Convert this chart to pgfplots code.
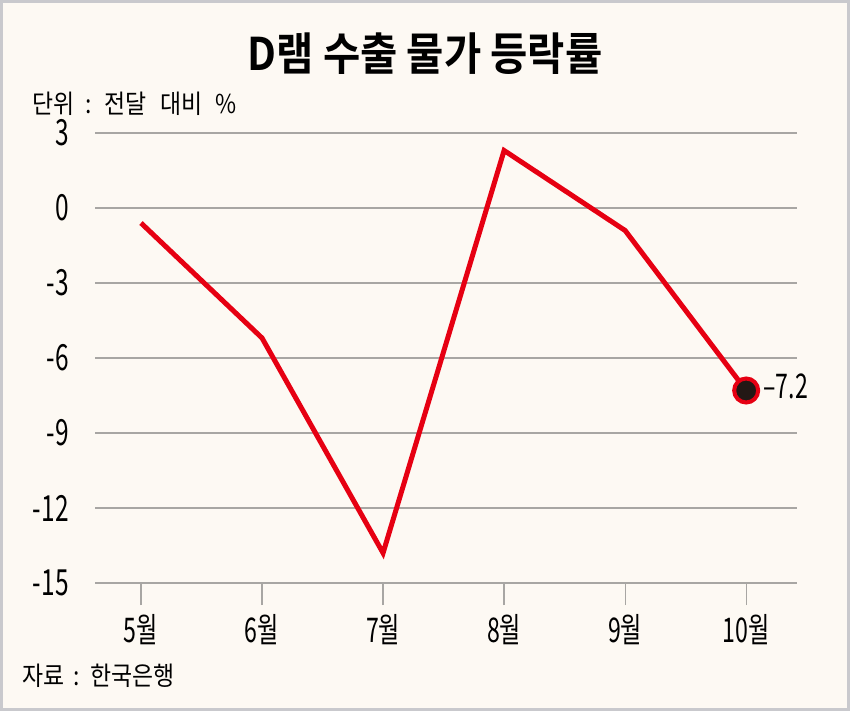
\documentclass[border=0pt]{standalone}
\usepackage{fontspec}
\usepackage{pgfplots}
\pgfplotsset{compat=1.18}
\setmainfont{Noto Sans CJK KR}[FakeStretch=0.88]
\newfontfamily\numfont{Noto Sans CJK KR}[FakeStretch=0.68]
\newfontfamily\titlefont{Noto Sans CJK KR Bold}[FakeStretch=0.9]

\definecolor{bgcream}{HTML}{FDF9F3}
\definecolor{framegray}{HTML}{C9C9CD}
\definecolor{gridgray}{HTML}{A8A6A3}
\definecolor{linered}{HTML}{E60012}
\definecolor{dotblack}{HTML}{231815}

\begin{document}
\begin{tikzpicture}
% 1 px of the reference = 0.5pt
\fill[bgcream] (0,0) rectangle (425pt,-355.5pt);
\draw[framegray, line width=1.5pt] (0.75pt,-0.75pt) rectangle (424.25pt,-354.75pt);

\node[anchor=center, font=\titlefont\fontsize{22.5}{24}\selectfont] at (212.5pt,-27pt) {D램 수출 물가 등락률};
\node[anchor=west, inner sep=0pt, font=\fontsize{13}{14}\selectfont] at (16pt,-52pt)
    {단위\hspace{3pt} :\hspace{3pt} 전달\hspace{4pt} 대비\hspace{4pt} \%};
\node[anchor=west, inner sep=0pt, font=\fontsize{13}{14}\selectfont] at (11pt,-338pt)
    {자료\hspace{2pt} :\hspace{2pt} 한국은행};

\begin{axis}[
    at={(47.5pt,-291.5pt)}, anchor=south west,
    scale only axis,
    width=351pt, height=225pt,
    xmin=-0.38, xmax=5.42,
    ymin=-15, ymax=3,
    xtick={0,1,2,3,4,5},
    xticklabels={5월,6월,7월,8월,9월,10월},
    ytick={-15,-12,-9,-6,-3,0,3},
    yticklabels={-15,-12,-9,-6,-3,0,3},
    axis line style={draw=none},
    ymajorgrids,
    grid style={gridgray, line width=0.6pt},
    xtick pos=bottom,
    ytick style={draw=none},
    xtick style={gridgray, line width=0.6pt},
    tick align=outside,
    major tick length=11pt,
    yticklabel style={font=\numfont\fontsize{18}{19}\selectfont, inner sep=0.5pt, xshift=-1.5pt},
    xticklabel style={font=\numfont\fontsize{17}{18}\selectfont, yshift=-1pt},
    clip=false,
]
\addplot[linered, line width=2.5pt, line join=miter] coordinates {
    (0,-0.6) (1,-5.2) (2,-13.8) (3,2.3) (4,-0.9) (5,-7.3)
};
\addplot[only marks, mark=*, mark size=6pt,
    mark options={fill=dotblack, draw=linered, line width=2pt}] coordinates {
    (5,-7.3)
};
\node[anchor=west, font=\numfont\fontsize{17}{18}\selectfont, inner sep=0pt]
    at (axis cs:5,-7.3) [xshift=8.5pt, yshift=2pt] {–7.2};
\end{axis}
\end{tikzpicture}
\end{document}
